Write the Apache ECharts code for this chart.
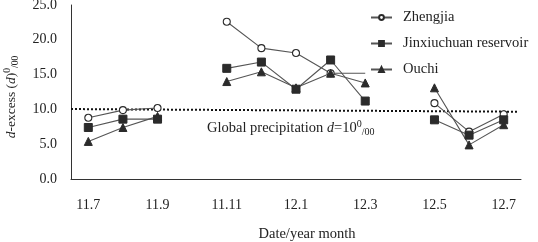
<!DOCTYPE html>
<html><head><meta charset="utf-8">
<script src="https://cdn.jsdelivr.net/npm/echarts@6/dist/echarts.min.js"></script>
<style>html,body{margin:0;padding:0;background:#fff}#c{width:538px;height:242px}</style>
</head><body><div id="c"></div>
<script>
const categories = ['11.7','11.8','11.9','11.10','11.11','11.12','12.1','12.2','12.3','12.4','12.5','12.6','12.7'];
const zhengjia    = [8.8, 9.9, 10.2, null, 22.6, 18.8, 18.1, 15.2, 15.2, null, 10.9, 6.8, 9.3];
const jinxiuchuan = [7.4, 8.6, 8.6, null, 15.9, 16.8, 12.9, 17.1, 11.2, null, 8.5, 6.3, 8.5];
const ouchi       = [5.4, 7.4, 9.0, null, 14.0, 15.4, 13.1, 15.2, 13.8, null, 13.1, 4.9, 7.8];
const globalLine  = [[0, 10.05], [12.9, 9.67]];
const yTicks = [0, 5, 10, 15, 20, 25];
const hiddenMarkerCategory = '12.3';

const FONT = 'Liberation Serif';
const chart = echarts.init(document.getElementById('c'));
const lineColor = '#555';
const markColor = '#2b2b2b';
function mk(name, data, symbol, size, filled, hideAt) {
  return {
    name, type: 'line', data: data.map((v, i) => (hideAt && categories[i] === hideAt) ? {value: v, symbol: 'none'} : v),
    symbol, symbolSize: size, connectNulls: false,
    lineStyle: {color: lineColor, width: 1.1},
    itemStyle: filled ? {color: markColor, borderColor: markColor, borderWidth: 1}
                      : {color: '#fff', borderColor: markColor, borderWidth: 1.1},
    z: 3
  };
}
const richStyles = {
  i: {fontStyle: 'italic', fontFamily: FONT, fontSize: 14, lineHeight: 18},
  sup: {fontFamily: FONT, fontSize: 10, lineHeight: 10, verticalAlign: 'top'},
  sub: {fontFamily: FONT, fontSize: 10, lineHeight: 14, verticalAlign: 'bottom'}
};
const richY = {
  i: {fontStyle: 'italic', fontFamily: FONT, fontSize: 13.5, lineHeight: 18},
  sup: {fontFamily: FONT, fontSize: 9.5, lineHeight: 10, verticalAlign: 'top'},
  sub: {fontFamily: FONT, fontSize: 9.5, lineHeight: 14, verticalAlign: 'bottom'}
};
chart.setOption({
  animation: false,
  grid: {left: 71, right: 17, top: 5, bottom: 63, containLabel: false, outerBoundsMode: 'none'},
  xAxis: [{
    type: 'category', data: categories, boundaryGap: true,
    axisLine: {lineStyle: {color: '#333', width: 1}},
    axisTick: {inside: true, length: 5, interval: 0, lineStyle: {color: '#333'}},
    axisLabel: {interval: 1, margin: 19, color: '#222', fontFamily: FONT, fontSize: 14},
    name: 'Date/year month', nameLocation: 'middle', nameGap: 48,
    nameTextStyle: {color: '#222', fontFamily: FONT, fontSize: 14.5, padding: [0, 0, 0, 22]}
  }, {
    type: 'value', min: 0, max: categories.length, show: false
  }],
  yAxis: {
    type: 'value', min: yTicks[0], max: yTicks[yTicks.length - 1], interval: 5,
    axisLine: {show: true, lineStyle: {color: '#333', width: 1}},
    axisTick: {show: false}, splitLine: {show: false},
    axisLabel: {margin: 14, color: '#222', fontFamily: FONT, fontSize: 14, formatter: v => v.toFixed(1)},
    name: '{i|d}-excess ({i|d}){sup|0}{sub|/00}', nameLocation: 'middle', nameGap: 51,
    nameTextStyle: {color: '#222', fontFamily: FONT, fontSize: 13.5, lineHeight: 18, padding: [0, 10, 0, 0], rich: richY}
  },
  legend: {
    orient: 'vertical', left: 365, top: 5, itemWidth: 21, itemHeight: 6, itemGap: 11,
    data: ['Zhengjia', 'Jinxiuchuan reservoir', 'Ouchi'],
    textStyle: {color: '#222', fontFamily: FONT, fontSize: 14.5, padding: [0, 0, 0, 6]}
  },
  graphic: [{
    type: 'text', left: 207, top: 119, z: 10,
    style: {
      text: 'Global precipitation {i|d}=10{sup|0}{sub|/00}',
      fill: '#222', font: '14.5px "Liberation Serif"', lineHeight: 18,
      rich: richStyles
    }
  }],
  series: [
    {
      name: 'global', type: 'line', xAxisIndex: 1, data: globalLine, symbol: 'none',
      lineStyle: {color: '#111', width: 2, type: [2, 2]}, z: 2, silent: true
    },
    mk('Zhengjia', zhengjia, 'circle', 7, false, hiddenMarkerCategory),
    mk('Jinxiuchuan reservoir', jinxiuchuan, 'rect', 8, true),
    mk('Ouchi', ouchi, 'triangle', 8, true)
  ]
});
</script></body></html>
